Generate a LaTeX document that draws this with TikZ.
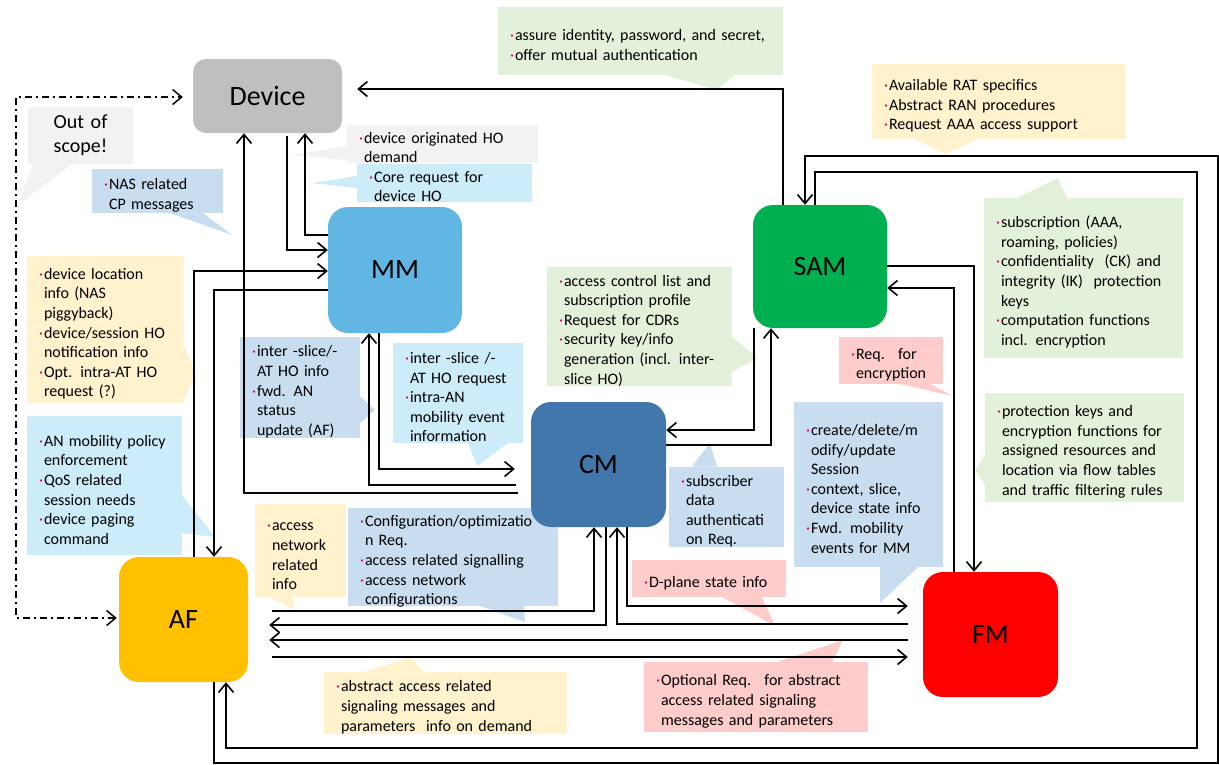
\documentclass[tikz,border=0pt]{standalone}
\usepackage{fontspec}
\setmainfont{Carlito}
\usetikzlibrary{arrows.meta}
\definecolor{cdev}{RGB}{191,191,191}
\definecolor{cmm}{RGB}{98,182,228}
\definecolor{csam}{RGB}{0,176,80}
\definecolor{ccm}{RGB}{65,119,170}
\definecolor{caf}{RGB}{255,192,0}
\definecolor{cfm}{RGB}{255,0,0}
\definecolor{kgray}{RGB}{242,242,242}
\definecolor{kcyan}{RGB}{204,236,250}
\definecolor{kblue}{RGB}{200,221,240}
\definecolor{kgreen}{RGB}{228,241,218}
\definecolor{kyellow}{RGB}{255,242,204}
\definecolor{kpink}{RGB}{255,204,204}
\definecolor{bulc}{RGB}{230,0,110}
\newcommand\bl[1]{\par\noindent\mbox{\makebox[5pt][l]{\textcolor{bulc}{·}}#1}}
\newcommand\cl[1]{\par\noindent\mbox{\hspace*{5pt}#1}}
\begin{document}
\begin{tikzpicture}[x=1pt,y=-1pt,
  fn/.style={rounded corners=20pt, inner sep=0pt, font=\fontsize{28}{34}\selectfont},
  co/.style={inner xsep=12pt, inner ysep=0pt, outer sep=0pt, font=\fontsize{16}{19.6}\selectfont},
  ln/.style={line width=1.6pt, black},
  arr/.style={ln, -{Straight Barb[length=9pt,width=15pt]}},
  dd/.style={line width=1.5pt, black, dash pattern=on 7pt off 4pt on 2pt off 4pt}]
\useasboundingbox (0,0) rectangle (1219,764);

% ---------- callouts ----------
\node[co, fill=kgray, text width=81pt, minimum height=57pt, align=center, font=\fontsize{20}{24}\selectfont] (ca) at (80.5,135.5) {Out of\\scope!};
\fill[kgray] (ca.south -| 33,0) -- (18,205) -- (ca.south -| 72,0) -- cycle;

\node[co, fill=kgray, text width=167pt, minimum height=38pt, font=\fontsize{16}{18.5}\selectfont] (cb) at (442.5,144) {\bl{device originated HO}\cl{demand}};
\fill[kgray] (cb.west |- 0,146) -- (292,155) -- (cb.west |- 0,160) -- cycle;

\node[co, fill=kcyan, text width=151pt, minimum height=30pt, font=\fontsize{16}{19}\selectfont] (cc) at (444.5,183) {\bl{Core request for}\cl{device HO}};
\fill[kcyan] (cc.west |- 0,176) -- (312,183) -- (cc.west |- 0,188) -- cycle;

\node[co, fill=kblue, text width=107pt, minimum height=44pt] (cd) at (157.5,191) {\bl{NAS related}\cl{CP messages}};
\fill[kblue] (cd.south -| 170,0) -- (232,235) -- (cd.south -| 203,0) -- cycle;

\node[co, fill=kgreen, text width=261pt, minimum height=68pt] (ce) at (640.5,41) {\bl{assure identity, password, and secret,}\bl{offer mutual authentication}};
\fill[kgreen] (ce.south -| 665,0) -- (717,90) -- (ce.south -| 735,0) -- cycle;

\node[co, fill=kyellow, text width=230pt, minimum height=75pt] (cf) at (999,101.5) {\bl{Available RAT specifics}\bl{Abstract RAN procedures}\bl{Request AAA access support}};
\fill[kyellow] (cf.south -| 915,0) -- (945,154) -- (cf.south -| 978,0) -- cycle;

\node[co, fill=kgreen, text width=175pt, minimum height=160pt] (cg) at (1083.5,278) {\bl{subscription (AAA,}\cl{roaming, policies)}\bl{confidentiality~ (CK) and}\cl{integrity (IK)~ protection}\cl{keys}\bl{computation functions}\cl{incl. encryption}};
\fill[kgreen] (cg.north -| 1017,0) -- (1058,178) -- (cg.north -| 1067,0) -- cycle;

\node[co, fill=kgreen, text width=161pt, minimum height=119pt] (ch) at (639.5,326.5) {\bl{access control list and}\cl{subscription profile}\bl{Request for CDRs}\bl{security key/info}\cl{generation (incl. inter-}\cl{slice HO)}};
\fill[kgreen] (ch.east |- 0,337) -- (758,358) -- (ch.east |- 0,372) -- cycle;

\node[co, fill=kyellow, text width=133pt, minimum height=147pt] (ci) at (105.5,329.5) {\bl{device location}\cl{info (NAS}\cl{piggyback)}\bl{device/session HO}\cl{notification info}\bl{Opt. intra-AT HO}\cl{request (?)}};
\fill[kyellow] (ci.east |- 0,345) -- (195,372) -- (ci.east |- 0,400) -- cycle;

\node[co, fill=kcyan, text width=131pt, minimum height=139pt] (cj) at (104.5,485.5) {\bl{AN mobility policy}\cl{enforcement}\bl{QoS related}\cl{session needs}\bl{device paging}\cl{command}};
\fill[kcyan] (cj.east |- 0,495) -- (215,537) -- (cj.east |- 0,533) -- cycle;

\node[co, fill=kblue, text width=96pt, minimum height=99pt] (ck) at (300,387.5) {\bl{inter -slice/-}\cl{AT HO info}\bl{fwd. AN}\cl{status}\cl{update (AF)}};
\fill[kblue] (ck.east |- 0,396) -- (375,410) -- (ck.east |- 0,423) -- cycle;

\node[co, fill=kcyan, text width=106pt, minimum height=100pt] (cl) at (458,393) {\bl{inter -slice /-}\cl{AT HO request}\bl{intra-AN}\cl{mobility event}\cl{information}};
\fill[kcyan] (cl.south -| 468,0) -- (477,466) -- (cl.south -| 508,0) -- cycle;

\node[co, fill=kblue, text width=91pt, minimum height=78pt] (cm) at (726.5,507) {\bl{subscriber}\cl{data}\cl{authenticati}\cl{on Req.}};
\fill[kblue] (cm.north -| 692,0) -- (710,443) -- (cm.north -| 717,0) -- cycle;

\node[co, fill=kpink, text width=80pt, minimum height=47pt] (cn) at (891,360.5) {\bl{Req.~ for}\cl{encryption}};
\fill[kpink] (cn.south -| 900,0) -- (953,396) -- (cn.south -| 930,0) -- cycle;

\node[co, fill=kblue, text width=125pt, minimum height=165pt] (co) at (868.5,484.5) {\bl{create/delete/m}\cl{odify/update}\cl{Session}\bl{context, slice,}\cl{device state info}\bl{Fwd. mobility}\cl{events for MM}};
\fill[kblue] (co.south -| 880,0) -- (880,603) -- (co.south -| 918,0) -- cycle;

\node[co, fill=kgreen, text width=175pt, minimum height=109pt] (cp) at (1084.5,447.5) {\bl{protection keys and}\cl{encryption functions for}\cl{assigned resources and}\cl{location via flow tables}\cl{and traffic filtering rules}};
\fill[kgreen] (cp.west |- 0,455) -- (975,470) -- (cp.west |- 0,485) -- cycle;

\node[co, fill=kyellow, text width=67pt, minimum height=93pt] (cq) at (300.5,550.5) {\bl{access}\cl{network}\cl{related}\cl{info}};
\fill[kyellow] (cq.south -| 270,0) -- (295,610) -- (cq.south -| 293,0) -- cycle;

\node[co, fill=kblue, text width=186pt, minimum height=98pt] (cr) at (453,557) {};
\fill[kblue] (cr.south -| 480,0) -- (525,622) -- (cr.south -| 524,0) -- cycle;

\node[co, fill=kpink, text width=130pt, minimum height=37pt] (cs) at (709,578.5) {\bl{D-plane state info}};
\fill[kpink] (cs.south -| 722,0) -- (775,626) -- (cs.south -| 762,0) -- cycle;

\node[co, fill=kyellow, text width=219pt, minimum height=60pt] (ct) at (445.5,703) {\bl{abstract access related}\cl{signaling messages and}\cl{parameters~ info on demand}};
\fill[kyellow] (ct.north -| 363,0) -- (410,657) -- (ct.north -| 425,0) -- cycle;

\node[co, fill=kpink, text width=200pt, minimum height=70pt] (cu) at (756,697) {\bl{Optional Req.~ for abstract}\cl{access related signaling}\cl{messages and parameters}};
\fill[kpink] (cu.north -| 777,0) -- (843,640) -- (cu.north -| 832,0) -- cycle;

% ---------- function blocks ----------
\node[fn, fill=cdev, rounded corners=13pt, minimum width=149pt, minimum height=74pt] (Device) at (267.5,96) {Device};
\node[fn, fill=cmm, minimum width=134pt, minimum height=126pt] (MM) at (395,270) {MM};
\node[fn, fill=csam, minimum width=134pt, minimum height=123pt] (SAM) at (820,266.5) {SAM};
\node[fn, fill=ccm, minimum width=135pt, minimum height=125pt] (CM) at (598.5,464.5) {CM};
\node[fn, fill=caf, minimum width=129pt, minimum height=125pt] (AF) at (183.5,619.5) {AF};
\node[fn, fill=cfm, minimum width=135pt, minimum height=125pt] (FM) at (990.5,634.5) {FM};

\node[co, text width=186pt, minimum height=98pt] (crt) at (cr.center) {\bl{Configuration/optimizatio}\cl{n Req.}\bl{access related signalling}\bl{access network}\cl{configurations}};

% ---------- connectors ----------
\draw[arr, shorten >=15pt] (SAM.north -| 783,0) |- (Device.east |- 0,89);
\draw[arr, shorten <=3pt] (Device.south -| 287,0) |- (MM.west |- 0,250);
\draw[arr] (MM.west |- 0,235) -| (Device.south -| 305,0);
\draw[arr, shorten <=13pt] (CM.west |- 0,493) -| (Device.south -| 244,0);
\draw[arr, shorten >=16pt] (MM.south -| 379,0) |- (CM.west |- 0,469);
\draw[arr, shorten <=15pt] (CM.west |- 0,485) -| (MM.south -| 369,0);
\draw[arr] (AF.north -| 194,0) |- (MM.west |- 0,271);
\draw[arr] (MM.west |- 0,290) -| (AF.north -| 214,0);
\draw[arr] (SAM.south -| 754,0) |- (CM.east |- 0,430);
\draw[arr] (CM.east |- 0,445) -| (SAM.south -| 771,0);
\draw[arr] (SAM.east |- 0,266) -| (FM.north -| 974,0);
\draw[arr] (FM.north -| 954,0) |- (SAM.east |- 0,288);
\draw[arr] (AF.south -| 214,0) -- (214,763) -- (1218,763) -- (1218,156) -| (SAM.north -| 805,0);
\draw[arr] (SAM.north -| 815,0) |- (1197,172) |- (226,748) -| (AF.south -| 226,0);
\draw[arr, shorten <=24pt] (AF.east |- 0,611) -| (CM.south -| 594,0);
\draw[arr, shorten >=21pt] (CM.south -| 606,0) |- (AF.east |- 0,625);
\draw[arr, shorten <=15pt, shorten >=21pt] (FM.west |- 0,640) -- (AF.east |- 0,640);
\draw[arr, shorten <=24pt, shorten >=15pt] (AF.east |- 0,657) -- (FM.west |- 0,657);
\draw[arr, shorten >=15pt] (CM.south -| 627,0) |- (FM.west |- 0,606);
\draw[arr, shorten <=15pt] (FM.west |- 0,624) -| (CM.south -| 617,0);
\draw[dd, {Straight Barb[length=9pt,width=15pt]}-{Straight Barb[length=9pt,width=15pt]}, shorten <=2pt, shorten >=10pt] (AF.west |- 0,618) -| (16,97) -- (Device.west |- 0,97);
\end{tikzpicture}
\end{document}
